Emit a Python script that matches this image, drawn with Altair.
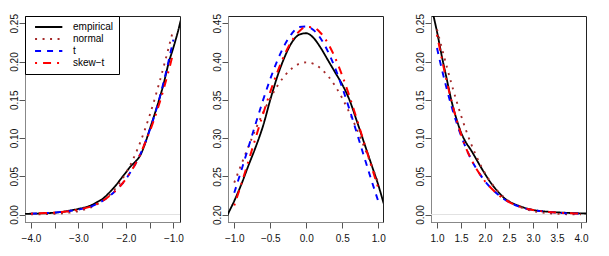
import altair as alt
import pandas as pd

# ---------------- data ----------------
X_MODEL = [round(-4.0 + 0.1 * i, 1) for i in range(81)]   # -4.0 .. 4.0
X_EMP = [round(-4.2 + 0.1 * i, 1) for i in range(85)]     # -4.2 .. 4.2

NORMAL = [
    0.0001, 0.0002, 0.0003, 0.0004, 0.0006, 0.0009, 0.0012, 0.0017, 0.0024, 0.0033,
    0.0044, 0.0060, 0.0079, 0.0104, 0.0136, 0.0175, 0.0224, 0.0283, 0.0355, 0.0440,
    0.0540, 0.0656, 0.0790, 0.0940, 0.1109, 0.1295, 0.1497, 0.1714, 0.1942, 0.2179,
    0.2420, 0.2661, 0.2897, 0.3123, 0.3332, 0.3521, 0.3683, 0.3814, 0.3910, 0.3970,
    0.3989,
    0.3970, 0.3910, 0.3814, 0.3683, 0.3521, 0.3332, 0.3123, 0.2897, 0.2661, 0.2420,
    0.2179, 0.1942, 0.1714, 0.1497, 0.1295, 0.1109, 0.0940, 0.0790, 0.0656, 0.0540,
    0.0440, 0.0355, 0.0283, 0.0224, 0.0175, 0.0136, 0.0104, 0.0079, 0.0060, 0.0044,
    0.0033, 0.0024, 0.0017, 0.0012, 0.0009, 0.0006, 0.0004, 0.0003, 0.0002, 0.0001,
]

T_DENS = [
    0.0011, 0.0013, 0.0016, 0.0019, 0.0022, 0.0026, 0.0031, 0.0037, 0.0044, 0.0053,
    0.0063, 0.0077, 0.0093, 0.0114, 0.0141, 0.0174, 0.0216, 0.0264, 0.0323, 0.0386,
    0.0463, 0.0557, 0.0660, 0.0785, 0.0931, 0.1099, 0.1289, 0.1504, 0.1743, 0.2006,
    0.2286, 0.2585, 0.2891, 0.3197, 0.3496, 0.3772, 0.4017, 0.4218, 0.4366, 0.4452,
    0.4458,
    0.4412, 0.4302, 0.4134, 0.3917, 0.3660, 0.3376, 0.3075, 0.2769, 0.2467, 0.2176,
    0.1902, 0.1649, 0.1420, 0.1215, 0.1033, 0.0875, 0.0737, 0.0620, 0.0521, 0.0433,
    0.0362, 0.0301, 0.0246, 0.0200, 0.0162, 0.0131, 0.0106, 0.0087, 0.0071, 0.0059,
    0.0049, 0.0042, 0.0035, 0.0029, 0.0024, 0.0020, 0.0017, 0.0015, 0.0013, 0.0011,
]

SKEW_T = [
    0.0011, 0.0013, 0.0016, 0.0019, 0.0022, 0.0026, 0.0031, 0.0037, 0.0044, 0.0053,
    0.0063, 0.0077, 0.0093, 0.0114, 0.0141, 0.0174, 0.0216, 0.0264, 0.0323, 0.0386,
    0.0463, 0.0557, 0.0660, 0.0785, 0.0931, 0.1082, 0.1252, 0.1441, 0.1649, 0.1877,
    0.2120, 0.2408, 0.2708, 0.3014, 0.3316, 0.3604, 0.3867, 0.4092, 0.4271, 0.4393,
    0.4452,
    0.4445, 0.4373, 0.4239, 0.4051, 0.3816, 0.3548, 0.3256, 0.2952, 0.2648, 0.2349,
    0.2038, 0.1749, 0.1488, 0.1255, 0.1051, 0.0875, 0.0737, 0.0620, 0.0521, 0.0433,
    0.0362, 0.0301, 0.0246, 0.0200, 0.0162, 0.0131, 0.0106, 0.0087, 0.0071, 0.0059,
    0.0049, 0.0042, 0.0035, 0.0029, 0.0024, 0.0020, 0.0017, 0.0015, 0.0013, 0.0011,
]

EMPIRICAL = [
    0.0008, 0.0009, 0.0010, 0.0012, 0.0014, 0.0016, 0.0019, 0.0023, 0.0030, 0.0039,
    0.0049, 0.0061, 0.0074, 0.0088, 0.0105, 0.0130, 0.0165, 0.0200, 0.0255, 0.0320,
    0.0390, 0.0470, 0.0550, 0.0630, 0.0690, 0.0770, 0.0920, 0.1110, 0.1300, 0.1500,
    0.1720, 0.1980, 0.2180, 0.2400, 0.2650, 0.2890, 0.3160, 0.3500, 0.3810, 0.4060,
    0.4250, 0.4350, 0.4370, 0.4310, 0.4180, 0.4020, 0.3860, 0.3700, 0.3500, 0.3230,
    0.2950, 0.2670, 0.2390, 0.2070, 0.1780, 0.1490, 0.1260, 0.1075, 0.0945, 0.0850,
    0.0744, 0.0634, 0.0530, 0.0433, 0.0350, 0.0278, 0.0215, 0.0170, 0.0140, 0.0115,
    0.0092, 0.0075, 0.0060, 0.0050, 0.0043, 0.0037, 0.0032, 0.0028, 0.0025, 0.0022,
    0.0019, 0.0017, 0.0015, 0.0013, 0.0012,
]

SERIES = ["empirical", "normal", "t", "skew\u2212t"]
COLORS = ["#000000", "#A52A2A", "#0000FF", "#FF0000"]
DASHES = [[1, 0], [2, 5.5], [6, 6], [2, 6, 8, 6]]
WIDTHS = [1.8, 2, 3, 3]

X_TICKS_1 = [-4.0, -3.5, -3.0, -2.5, -2.0, -1.5, -1.0]
X_TICKS_2 = [-1.0, -0.5, 0.0, 0.5, 1.0]
X_TICKS_3 = [1.0, 1.5, 2.0, 2.5, 3.0, 3.5, 4.0]
Y_TICKS_TAIL = [0.0, 0.05, 0.10, 0.15, 0.20, 0.25]
Y_TICKS_MID = [0.20, 0.25, 0.30, 0.35, 0.40, 0.45]

FONT = "Liberation Sans"
PANEL_W = 155
PANEL_H = 206


def frame(name, xs, ys, lo, hi):
    keep = [(x, y) for x, y in zip(xs, ys) if lo - 1e-9 <= x <= hi + 1e-9]
    return pd.DataFrame({"x": [k[0] for k in keep], "y": [k[1] for k in keep], "series": name})


legend = alt.Legend(
    title=None, orient="none", legendX=0, legendY=0, direction="vertical",
    strokeColor="black", fillColor="white", padding=5, cornerRadius=0,
    symbolType="stroke", symbolSize=745, symbolOffset=3.7, labelOffset=9.3,
    labelFont=FONT, labelFontSize=10, labelColor="black",
    clipHeight=12, rowPadding=0,
)


def panel(xdom, ydom, lo, hi, xticks, yticks, xlabel_expr, zero_line):
    xenc = alt.X("x:Q", scale=alt.Scale(domain=xdom, nice=False, zero=False),
                 axis=alt.Axis(values=xticks, labelExpr=xlabel_expr, title=None))
    yenc = alt.Y("y:Q", scale=alt.Scale(domain=ydom, nice=False, zero=False),
                 axis=alt.Axis(values=yticks, format=".2f", title=None))
    layers = []
    if zero_line:
        layers.append(
            alt.Chart(pd.DataFrame({"x": [xdom[0]], "y": [0.0]}))
            .mark_rule(color="#e2e2e2", strokeWidth=1)
            .encode(y=yenc)
        )
    specs = [
        (SERIES[0], X_EMP, EMPIRICAL, -99, 99),
        (SERIES[1], X_MODEL, NORMAL, lo, hi),
        (SERIES[2], X_MODEL, T_DENS, lo, hi),
        (SERIES[3], X_MODEL, SKEW_T, lo, hi),
    ]
    for name, xs, ys, a, b in specs:
        layers.append(
            alt.Chart(frame(name, xs, ys, a, b))
            .mark_line(clip=True, interpolate="monotone")
            .encode(
                x=xenc, y=yenc,
                color=alt.Color("series:N", scale=alt.Scale(domain=SERIES, range=COLORS), legend=legend),
                strokeDash=alt.StrokeDash("series:N", scale=alt.Scale(domain=SERIES, range=DASHES), legend=legend),
                strokeWidth=alt.StrokeWidth("series:N", scale=alt.Scale(domain=SERIES, range=WIDTHS), legend=legend),
            )
        )
    return alt.layer(*layers).properties(width=PANEL_W, height=PANEL_H)


p1 = panel([-4.126, -0.86], [-0.0098, 0.2595], -4.0, -1.0, X_TICKS_1,
           Y_TICKS_TAIL, "datum.value % 1 === 0 ? format(datum.value, '.1f') : ''", True)
p2 = panel([-1.087, 1.066], [0.1905, 0.4595], -1.0, 1.0, X_TICKS_2,
           Y_TICKS_MID, "format(datum.value, '.1f')", False)
p3 = panel([0.875, 4.104], [-0.0098, 0.2595], 1.0, 4.0, X_TICKS_3,
           Y_TICKS_TAIL, "format(datum.value, '.1f')", True)

chart = (
    alt.hconcat(p1, p2, p3, spacing=48, bounds="flush")
    .properties(padding={"left": 0, "top": 5, "right": 5, "bottom": 5})
    .configure_view(stroke="#222222", strokeWidth=1)
    .configure_axis(
        labelFont=FONT, labelFontSize=10, labelColor="#111111",
        tickSize=6, tickColor="#555555", domainColor="#888888",
        grid=False, labelFlush=False, labelOverlap=False,
    )
    .configure_axisX(labelPadding=5)
    .configure_axisY(labelAngle=270, labelAlign="center", labelBaseline="bottom", labelPadding=0)
)

chart.save("out.html", embed_options={"renderer": "svg", "actions": False})
